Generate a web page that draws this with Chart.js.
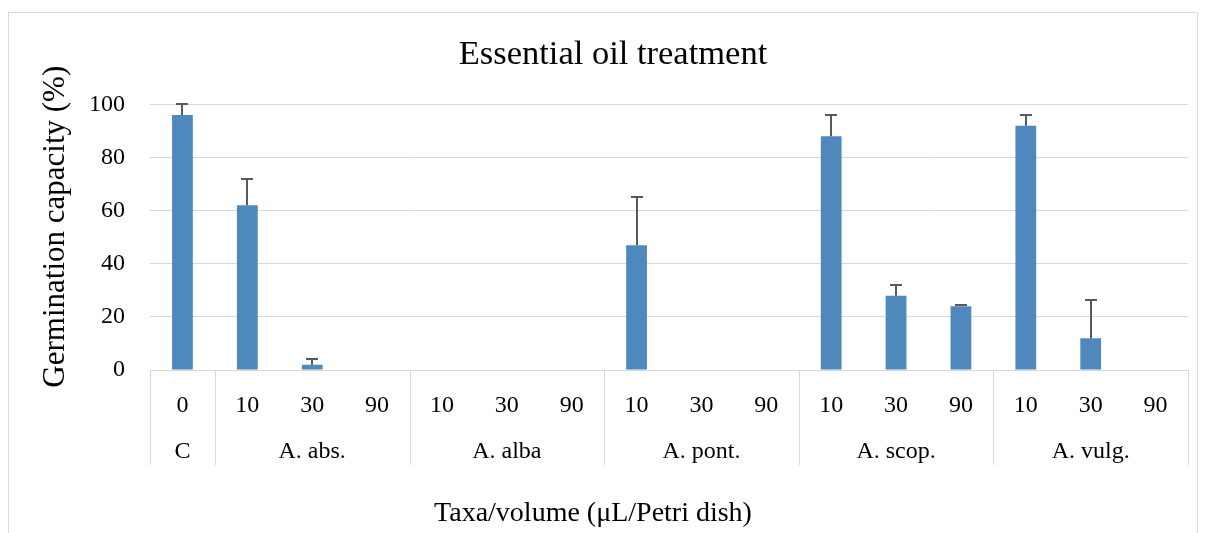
<!DOCTYPE html>
<html>
<head>
<meta charset="utf-8">
<script src="https://cdn.jsdelivr.net/npm/chart.js@4.4.0/dist/chart.umd.min.js"></script>
<style>
  body { margin: 0; background: #fff; }
  #wrap { width: 1208px; height: 533px; }
</style>
</head>
<body>
<div id="wrap"><canvas id="myChart" width="1208" height="533"></canvas></div>
<script>
// volume (µL/Petri dish) for each bar
var volumes = ['0', '10', '30', '90', '10', '30', '90', '10', '30', '90', '10', '30', '90', '10', '30', '90'];
// taxa groups and how many bars belong to each
var taxa = ['C', 'A. abs.', 'A. alba', 'A. pont.', 'A. scop.', 'A. vulg.'];
var taxaSize = [1, 3, 3, 3, 3, 3];
// germination capacity (%) and its upper error
var germination = [96, 62, 2, 0, 0, 0, 0, 47, 0, 0, 88, 28, 24, 92, 12, 0];
var errorUp = [4, 10, 2, 0, 0, 0, 0, 18, 0, 0, 8, 4, 0.3, 4, 14.5, 0];
var yTicks = [0, 20, 40, 60, 80, 100];

var serif = 'Liberation Serif';
var gridGray = '#d9d9d9';

var framePlugin = {
    id: 'frame',
    beforeDraw: function (chart) {
        var ctx = chart.ctx;
        ctx.save();
        ctx.fillStyle = '#fff';
        ctx.fillRect(0, 0, chart.width, chart.height);
        ctx.strokeStyle = gridGray;
        ctx.lineWidth = 1;
        ctx.strokeRect(8.5, 12.5, 1189, 600);
        ctx.restore();
    }
};

var errorBarPlugin = {
    id: 'errorBars',
    afterDatasetsDraw: function (chart) {
        var ctx = chart.ctx;
        var yScale = chart.scales.y;
        var meta = chart.getDatasetMeta(0);
        ctx.save();
        ctx.strokeStyle = '#595959';
        ctx.lineWidth = 2;
        meta.data.forEach(function (bar, i) {
            if (!errorUp[i]) return;
            var top = Math.round(yScale.getPixelForValue(germination[i] + errorUp[i]));
            var x = Math.round(bar.x);
            ctx.beginPath();
            ctx.moveTo(x, bar.y);
            ctx.lineTo(x, top);
            ctx.moveTo(x - 6, top);
            ctx.lineTo(x + 6, top);
            ctx.stroke();
        });
        ctx.restore();
    }
};

// second row of category labels, separators and the two axis titles
var groupAxisPlugin = {
    id: 'groupAxis',
    afterDraw: function (chart) {
        var ctx = chart.ctx;
        var xScale = chart.scales.x;
        var yScale = chart.scales.y;
        var catW = xScale.width / volumes.length;
        var yTop = xScale.top;
        var yBottom = 465;
        ctx.save();
        ctx.strokeStyle = gridGray;
        ctx.lineWidth = 1;
        ctx.fillStyle = '#000';
        ctx.font = '24px "' + serif + '"';
        ctx.textAlign = 'center';
        ctx.textBaseline = 'middle';
        var start = 0;
        for (var g = 0; g <= taxa.length; g++) {
            var xLine = Math.round(xScale.left + start * catW) + 0.5;
            ctx.beginPath();
            ctx.moveTo(xLine, yTop);
            ctx.lineTo(xLine, yBottom);
            ctx.stroke();
            if (g < taxa.length) {
                var mid = xScale.left + (start + taxaSize[g] / 2) * catW;
                ctx.fillText(taxa[g], mid, 452);
                start += taxaSize[g];
            }
        }
        // axis titles (Excel places them off the plot centre)
        ctx.font = '28px "' + serif + '"';
        ctx.fillText('Taxa/volume (μL/Petri dish)', 593, 514);
        ctx.translate(56, (yScale.top + yBottom) / 2 - 58);
        ctx.rotate(-Math.PI / 2);
        ctx.font = '31px "' + serif + '"';
        ctx.fillText('Germination capacity (%)', 0, 0);
        ctx.restore();
    }
};

var ctx = document.getElementById('myChart').getContext('2d');
var chart = new Chart(ctx, {
    type: 'bar',
    data: {
        labels: volumes,
        datasets: [{
            label: 'Germination capacity',
            data: germination,
            backgroundColor: '#4f88bd',
            borderWidth: 0,
            barPercentage: 0.32,
            categoryPercentage: 1
        }]
    },
    options: {
        responsive: false,
        animation: false,
        layout: { padding: { left: 38, right: 20, top: 12, bottom: 0 } },
        plugins: {
            legend: { display: false },
            tooltip: { enabled: false },
            title: {
                display: true,
                text: 'Essential oil treatment',
                color: '#000',
                font: { family: serif, size: 34.5, weight: 'normal' },
                padding: { top: 22, bottom: 29 }
            }
        },
        scales: {
            x: {
                afterFit: function (scale) { scale.height = 163; },
                grid: { display: false },
                border: { display: true, color: gridGray, width: 1 },
                ticks: {
                    color: '#000',
                    font: { family: serif, size: 24 },
                    padding: 13,
                    maxRotation: 0,
                    autoSkip: false
                }
            },
            y: {
                min: 0,
                max: 100,
                afterFit: function (scale) { scale.width = 112; },
                afterBuildTicks: function (scale) {
                    scale.ticks = yTicks.map(function (v) { return { value: v }; });
                },
                grid: { color: gridGray, lineWidth: 1, drawTicks: false },
                border: { display: false },
                ticks: {
                    color: '#000',
                    font: { family: serif, size: 24 },
                    padding: 25
                }
            }
        }
    },
    plugins: [framePlugin, errorBarPlugin, groupAxisPlugin]
});
</script>
</body>
</html>
